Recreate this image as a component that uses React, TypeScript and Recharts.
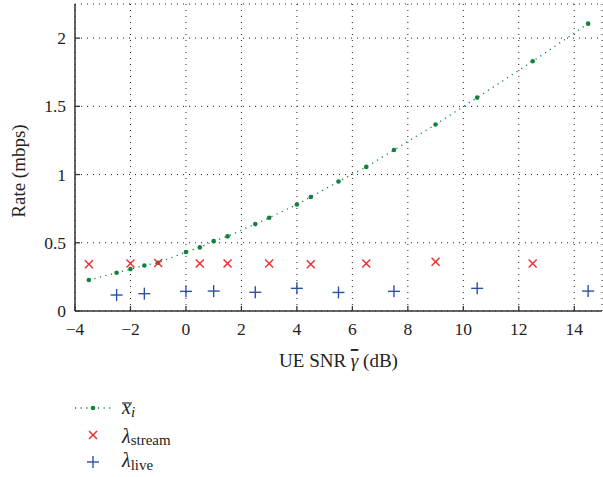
import React from 'react';
import { ScatterChart, Scatter, XAxis, YAxis, CartesianGrid } from 'recharts';

const xTicks = [-4, -2, 0, 2, 4, 6, 8, 10, 12, 14];
const yTicks = [0, 0.5, 1, 1.5, 2];

const meanSnr = [-3.5, -2.5, -2, -1.5, -1, 0, 0.5, 1, 1.5, 2.5, 3, 4, 4.5, 5.5, 6.5, 7.5, 9, 10.5, 12.5, 14.5];
const meanRate = [0.227, 0.28, 0.307, 0.334, 0.354, 0.432, 0.466, 0.512, 0.547, 0.637, 0.683, 0.781, 0.835, 0.949, 1.056, 1.18, 1.367, 1.564, 1.83, 2.106];

const streamSnr = [-3.5, -2, -1, 0.5, 1.5, 3, 4.5, 6.5, 9, 12.5];
const streamRate = [0.342, 0.349, 0.352, 0.349, 0.349, 0.349, 0.342, 0.349, 0.361, 0.349];

const liveSnr = [-2.5, -1.5, 0, 1, 2.5, 4, 5.5, 7.5, 10.5, 14.5];
const liveRate = [0.117, 0.127, 0.144, 0.146, 0.137, 0.166, 0.136, 0.144, 0.166, 0.146];

const meanData = meanSnr.map((x, i) => ({ x, y: meanRate[i] }));
const streamData = streamSnr.map((x, i) => ({ x, y: streamRate[i] }));
const liveData = liveSnr.map((x, i) => ({ x, y: liveRate[i] }));

const GREEN = '#12803e';
const RED = '#ec2a2f';
const BLUE = '#2b52a8';
const AXIS = '#333';
const FONT = '"Liberation Serif", "DejaVu Serif", serif';

const fmt = (v: number) => (v < 0 ? '\u2212' + Math.abs(v) : String(v));

const BottomTick = (props: any) => {
  const { x, y, payload } = props;
  return (
    <g>
      <line x1={x} x2={x} y1={y} y2={y - 5} stroke={AXIS} strokeWidth={1.3} />
      <text x={x} y={y + 24} textAnchor="middle" fontFamily={FONT} fontSize={17.5} fill="#222">
        {fmt(payload.value)}
      </text>
    </g>
  );
};
const TopTick = (props: any) => {
  const { x, y } = props;
  return <line x1={x} x2={x} y1={y} y2={y + 5} stroke={AXIS} strokeWidth={1.3} />;
};
const LeftTick = (props: any) => {
  const { x, y, payload } = props;
  return (
    <g>
      <line x1={x} x2={x + 5} y1={y} y2={y} stroke={AXIS} strokeWidth={1.3} />
      <text x={x - 9} y={y + 6} textAnchor="end" fontFamily={FONT} fontSize={17.5} fill="#222">
        {fmt(payload.value)}
      </text>
    </g>
  );
};
const RightTick = (props: any) => {
  const { x, y } = props;
  return <line x1={x} x2={x - 5} y1={y} y2={y} stroke={AXIS} strokeWidth={1.3} />;
};

const Dot = (props: any) => {
  const { cx, cy } = props;
  return <circle cx={cx} cy={cy} r={2.3} fill={GREEN} />;
};
const XMark = (props: any) => {
  const { cx, cy } = props;
  const s = 4;
  return (
    <g stroke={RED} strokeWidth={1.4}>
      <line x1={cx - s} y1={cy - s} x2={cx + s} y2={cy + s} />
      <line x1={cx - s} y1={cy + s} x2={cx + s} y2={cy - s} />
    </g>
  );
};
const PlusMark = (props: any) => {
  const { cx, cy } = props;
  const s = 6;
  return (
    <g stroke={BLUE} strokeWidth={1.4}>
      <line x1={cx - s} y1={cy} x2={cx + s} y2={cy} />
      <line x1={cx} y1={cy - s} x2={cx} y2={cy + s} />
    </g>
  );
};

const XLabel = (props: any) => {
  const vb = props.viewBox || {};
  const cx = (vb.x || 0) + (vb.width || 0) / 2;
  return (
    <text x={cx} y={367} textAnchor="middle" fontFamily={FONT} fontSize={19} fill="#222">
      UE SNR{' '}
      <tspan fontStyle="italic" style={{ textDecoration: 'overline' }}>γ</tspan> (dB)
    </text>
  );
};

const YLabel = () => (
  <text
    x={25}
    y={171}
    transform="rotate(-90 25 171)"
    textAnchor="middle"
    fontFamily={FONT}
    fontSize={19}
    fill="#222"
  >
    Rate (mbps)
  </text>
);

const LegendOverlay = () => (
  <svg width={603} height={477} style={{ position: 'absolute', left: 0, top: 0, pointerEvents: 'none' }}>
    <line x1={75} x2={112} y1={408} y2={408} stroke={GREEN} strokeWidth={1.3} strokeDasharray="1.2 4.5" />
    <circle cx={93} cy={408} r={2.3} fill={GREEN} />
    <text x={122} y={414} fontFamily={FONT} fontSize={20} fill="#222">
      <tspan fontStyle="italic">x</tspan>
      <tspan fontStyle="italic" fontSize={15} dy={3}>i</tspan>
    </text>
    <line x1={122} x2={132} y1={403} y2={403} stroke="#222" strokeWidth={1.1} />
    <g stroke={RED} strokeWidth={1.4}>
      <line x1={89} y1={431} x2={97} y2={439} />
      <line x1={89} y1={439} x2={97} y2={431} />
    </g>
    <text x={122} y={443} fontFamily={FONT} fontSize={20} fill="#222">
      <tspan fontStyle="italic">λ</tspan>
      <tspan fontSize={15} dy={2}>stream</tspan>
    </text>
    <g stroke={BLUE} strokeWidth={1.4}>
      <line x1={87} y1={462} x2={99} y2={462} />
      <line x1={93} y1={456} x2={93} y2={468} />
    </g>
    <text x={122} y={467} fontFamily={FONT} fontSize={20} fill="#222">
      <tspan fontStyle="italic">λ</tspan>
      <tspan fontSize={15} dy={3}>live</tspan>
    </text>
  </svg>
);

export default function App() {
  return (
    <div style={{ position: 'absolute', left: 0, top: 0, width: 603, height: 477, background: '#fff' }}>
      <ScatterChart width={603} height={477} margin={{ top: 4, right: 1, left: 0, bottom: 0 }}>
        <CartesianGrid stroke="#222" strokeDasharray="1 5" strokeWidth={1} />
        <XAxis
          xAxisId={0}
          type="number"
          dataKey="x"
          domain={[-4, 15]}
          ticks={xTicks}
          allowDataOverflow
          height={166}
          tickSize={0}
          tickMargin={0}
          tickLine={false}
          stroke={AXIS}
          strokeWidth={1.5}
          tick={<BottomTick />}
          interval={0}
          label={<XLabel />}
        />
        <XAxis
          xAxisId="top"
          orientation="top"
          type="number"
          domain={[-4, 15]}
          ticks={xTicks}
          allowDataOverflow
          height={0}
          tickSize={0}
          tickMargin={0}
          tickLine={false}
          stroke={AXIS}
          strokeWidth={1.5}
          tick={<TopTick />}
          interval={0}
        />
        <YAxis
          yAxisId={0}
          type="number"
          dataKey="y"
          domain={[0, 2.25]}
          ticks={yTicks}
          allowDataOverflow
          width={75}
          tickSize={0}
          tickMargin={0}
          tickLine={false}
          stroke={AXIS}
          strokeWidth={1.5}
          tick={<LeftTick />}
          interval={0}
          label={<YLabel />}
        />
        <YAxis
          yAxisId="right"
          orientation="right"
          type="number"
          domain={[0, 2.25]}
          ticks={yTicks}
          allowDataOverflow
          width={0}
          tickSize={0}
          tickMargin={0}
          tickLine={false}
          stroke={AXIS}
          strokeWidth={1.5}
          tick={<RightTick />}
          interval={0}
        />
        <Scatter
          name="mean"
          data={meanData}
          xAxisId={0}
          yAxisId={0}
          fill={GREEN}
          line={{ stroke: GREEN, strokeWidth: 1.3, strokeDasharray: '1.2 4.5' }}
          lineType="joint"
          shape={<Dot />}
          isAnimationActive={false}
        />
        <Scatter
          name="stream"
          data={streamData}
          xAxisId={0}
          yAxisId={0}
          fill={RED}
          shape={<XMark />}
          isAnimationActive={false}
        />
        <Scatter
          name="live"
          data={liveData}
          xAxisId={0}
          yAxisId={0}
          fill={BLUE}
          shape={<PlusMark />}
          isAnimationActive={false}
        />
      </ScatterChart>
      <LegendOverlay />
    </div>
  );
}
